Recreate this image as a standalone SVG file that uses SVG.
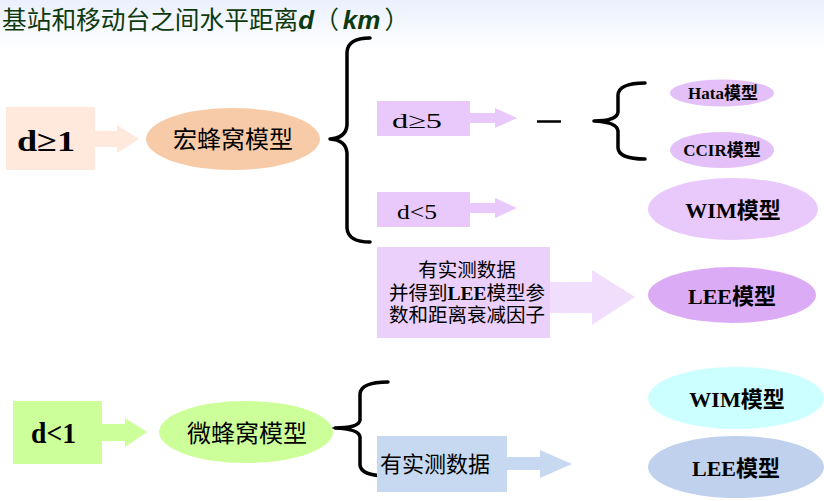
<svg xmlns="http://www.w3.org/2000/svg" width="824" height="501" viewBox="0 0 824 501">
<defs>
<linearGradient id="bg" x1="0" y1="0" x2="0" y2="1">
<stop offset="0" stop-color="#eaf0fd"/>
<stop offset="1" stop-color="#ffffff"/>
</linearGradient>
</defs>
<style>
.ser{font-family:"Liberation Serif","Noto Sans CJK SC",serif;fill:#000}
.cjk{font-family:"Liberation Serif","Noto Sans CJK SC",sans-serif;fill:#000}
.b{font-weight:bold}
.ttl{font-family:"Noto Sans CJK SC",sans-serif;font-size:24.7px;fill:#0d3a0d}
.ttli{font-family:"Liberation Sans",sans-serif;font-weight:bold;font-style:italic;font-size:26px}
.brace{fill:none;stroke:#000;stroke-width:3.5;stroke-linecap:round;stroke-linejoin:round}
</style>
<rect x="0" y="0" width="824" height="501" fill="#fff"/>
<rect x="0" y="0" width="824" height="50" fill="url(#bg)"/>
<text x="2" y="28.5" class="ttl">基站和移动台之间水平距离<tspan class="ttli">d</tspan>（<tspan class="ttli" dx="4">km</tspan><tspan dx="4">）</tspan></text>

<g id="connectors">
<polygon points="95,131 117,131 117,125 139,139 117,153 117,147 95,147" fill="#ffe9dc"/>
<polygon points="470,113 495,113 495,108 517,118 495,128 495,123 470,123" fill="#e9c9fc"/>
<polygon points="470,203 495,203 495,198 517,208 495,218 495,213 470,213" fill="#e9c9fc"/>
<polygon points="550,282 592,282 592,270 635,297 592,325 592,313 550,313" fill="#f1ddfc"/>
<polygon points="102,424 125,424 125,418 147,432 125,447 125,441 102,441" fill="#ccff99"/>
<polygon points="507,457 540,457 540,450 572,464 540,478 540,470 507,470" fill="#c6d9f1"/>
<line x1="537" y1="121.5" x2="561" y2="121.5" stroke="#000" stroke-width="2.5"/>
<path class="brace" d="M370,38 Q348,38 347,52 L347,125 Q346,138 330,139 Q346,140 347,153 L347,228 Q348,242 370,242"/>
<path class="brace" d="M645,83 Q619,83 618,95 L618,112 Q617,121 594,121 Q617,122 618,131 L618,148 Q619,159 645,159"/>
<path class="brace" d="M388,382 Q361,382 360,394 L360,420 Q359,428 335,428 Q359,429 360,437 L360,465 Q361,476 388,476"/>
<line x1="282" y1="428" x2="336" y2="428" stroke="#000" stroke-width="1.2"/>
</g>

<g id="d_ge_1">
<rect x="6" y="107" width="89" height="63" fill="#ffe9dc"/>
<text x="17" y="151" class="ser b" font-size="29" textLength="58" lengthAdjust="spacingAndGlyphs">d≥1</text>
</g>
<g id="macro">
<ellipse cx="233" cy="139" rx="87" ry="31" fill="#f8cba8"/>
<text x="233" y="148" text-anchor="middle" class="cjk" font-size="24">宏蜂窝模型</text>
</g>
<g id="d_ge_5">
<rect x="377" y="101" width="93" height="35" fill="#e9c9fc"/>
<text x="392" y="128" class="ser" font-size="22" textLength="50" lengthAdjust="spacingAndGlyphs">d≥5</text>
</g>
<g id="d_lt_5">
<rect x="377" y="192" width="93" height="35" fill="#e9c9fc"/>
<text x="397" y="219" class="ser" font-size="22" textLength="40" lengthAdjust="spacingAndGlyphs">d&lt;5</text>
</g>
<g id="measured1">
<rect x="377" y="247" width="173" height="91" fill="#ecd0fc"/>
<text x="467" y="277" text-anchor="middle" class="cjk" font-size="19.5">有实测数据</text>
<text x="467" y="300" text-anchor="middle" class="cjk" font-size="19.5">并得到<tspan class="b">LEE</tspan>模型参</text>
<text x="467" y="322" text-anchor="middle" class="cjk" font-size="19.5">数和距离衰减因子</text>
</g>
<g id="hata">
<ellipse cx="722" cy="93" rx="52" ry="13.5" fill="#e3c1f8"/>
<text x="723" y="99" text-anchor="middle" class="cjk b" font-size="17">Hata模型</text>
</g>
<g id="ccir">
<ellipse cx="722" cy="150" rx="52" ry="18" fill="#e3c1f8"/>
<text x="722" y="156" text-anchor="middle" class="cjk b" font-size="17">CCIR模型</text>
</g>
<g id="wim1">
<ellipse cx="733" cy="209" rx="85" ry="31" fill="#e9c9fc"/>
<text x="733" y="218" text-anchor="middle" class="cjk b" font-size="22">WIM模型</text>
</g>
<g id="lee1">
<ellipse cx="732" cy="295" rx="84" ry="28" fill="#dcabf6"/>
<text x="732" y="304" text-anchor="middle" class="cjk b" font-size="22">LEE模型</text>
</g>
<g id="d_lt_1">
<rect x="13" y="401" width="89" height="63" fill="#ccff99"/>
<text x="31" y="443" class="ser b" font-size="29" textLength="45" lengthAdjust="spacingAndGlyphs">d&lt;1</text>
</g>
<g id="micro">
<ellipse cx="246" cy="432" rx="87" ry="31" fill="#ccff99"/>
<text x="247" y="442" text-anchor="middle" class="cjk" font-size="24">微蜂窝模型</text>
</g>
<g id="measured2">
<rect x="377" y="436" width="130" height="56" fill="#c6d9f1"/>
<text x="380" y="472" class="cjk" font-size="22">有实测数据</text>
</g>
<g id="wim2">
<ellipse cx="736" cy="398" rx="88" ry="31" fill="#ccffff"/>
<text x="737" y="407" text-anchor="middle" class="cjk b" font-size="22">WIM模型</text>
</g>
<g id="lee2">
<ellipse cx="736" cy="467" rx="88" ry="31" fill="#c0d1ee"/>
<text x="736" y="476" text-anchor="middle" class="cjk b" font-size="22">LEE模型</text>
</g>
</svg>
